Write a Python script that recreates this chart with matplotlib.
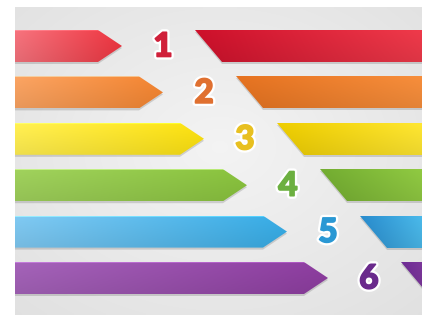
import numpy as np
import matplotlib
matplotlib.use("Agg")
import matplotlib.pyplot as plt
from matplotlib.patches import Polygon
import matplotlib.patheffects as pe

# ---- data ----
labels = ["1", "2", "3", "4", "5", "6"]
tip_x = [122, 163, 204, 247, 287, 328]          # arrow tip position (px units)
left_start = ["#f0707a", "#f5a060", "#fbea50", "#9ccc5a", "#7cc4ec", "#a060b4"]
left_end = ["#e8343f", "#ee8230", "#f6dc10", "#86be3c", "#36a8e0", "#8a3c9c"]
right_start = ["#c8102a", "#e07020", "#e8c800", "#70a830", "#2888c8", "#6a2a90"]
right_end = ["#e83848", "#f08a3a", "#f8e030", "#8cc440", "#48b4e4", "#7c3898"]
num_colors = ["#d0203a", "#e07030", "#e8c020", "#6cb040", "#2a98d4", "#6a2a8c"]

W, H = 422, 315
fig = plt.figure(figsize=(W / 100, H / 100), dpi=100)
ax = fig.add_axes([0, 0, 1, 1])
ax.set_xlim(0, W)
ax.set_ylim(H, 0)
ax.axis("off")
fig.patch.set_facecolor("white")

# background (radial-ish light gray)
bx0, by0 = 15, 7
yy, xx = np.mgrid[0:100, 0:140]
cx, cy = 70, 45
r = np.sqrt(((xx - cx) / 140) ** 2 + ((yy - cy) / 100) ** 2)
g = 0.955 - 0.10 * r
bg = np.dstack([g, g, g])
ax.imshow(bg, extent=(bx0, W, H, by0), aspect="auto", zorder=0, interpolation="bilinear")


def hexrgb(h):
    h = h.lstrip("#")
    return np.array([int(h[i:i + 2], 16) / 255 for i in (0, 2, 4)])


def grad_poly(pts, c0, c1, z=2, hl=True):
    pts = np.array(pts, dtype=float)
    x0, x1 = pts[:, 0].min(), pts[:, 0].max()
    y0, y1 = pts[:, 1].min(), pts[:, 1].max()
    n = 64
    t = np.linspace(0, 1, n)
    a, b = hexrgb(c0), hexrgb(c1)
    row = a[None, :] * (1 - t[:, None]) + b[None, :] * t[:, None]
    v = np.linspace(0, 1, 32)
    shade = 1.03 - 0.08 * v
    img = np.clip(row[None, :, :] * shade[:, None, None], 0, 1)
    if hl:
        img[0:1] = np.clip(img[0:1] * 1.1 + 0.06, 0, 1)
    sh = Polygon(pts + np.array([0.0, 2.0]), closed=True, facecolor=(0, 0, 0, 0.14),
                 edgecolor="none", zorder=z - 0.5)
    ax.add_patch(sh)
    poly = Polygon(pts, closed=True, facecolor="none", edgecolor="none", zorder=z)
    ax.add_patch(poly)
    im = ax.imshow(img, extent=(x0, x1, y1, y0), aspect="auto", zorder=z,
                   interpolation="bilinear")
    im.set_clip_path(poly)


row_top0, row_step, row_h = 30, 46.4, 32
for i, lab in enumerate(labels):
    top = row_top0 + i * row_step
    bot = top + row_h
    mid = (top + bot) / 2
    tip = tip_x[i]
    body = tip - 24
    # left arrow
    grad_poly([(bx0, top), (body, top), (tip, mid), (body, bot), (bx0, bot)],
              left_start[i], left_end[i])
    # right slanted band
    rx_top = tip + 73
    rx_bot = tip + 100
    rpts = [(rx_top, top), (W, top), (W, bot), (rx_bot, bot)]
    grad_poly(rpts, right_start[i], right_end[i], hl=False)
    # number
    ax.text(tip + 41, mid + 1, lab, ha="center", va="center", fontsize=24,
            family="Lato", fontweight="black", color=num_colors[i], zorder=5,
            path_effects=[pe.withSimplePatchShadow(offset=(1, -1.5), alpha=0.35),
                          pe.Stroke(linewidth=4.5, foreground="white"),
                          pe.Stroke(linewidth=1.2, foreground=num_colors[i]),
                          pe.Normal()])

fig.savefig("out.png", dpi=100)
